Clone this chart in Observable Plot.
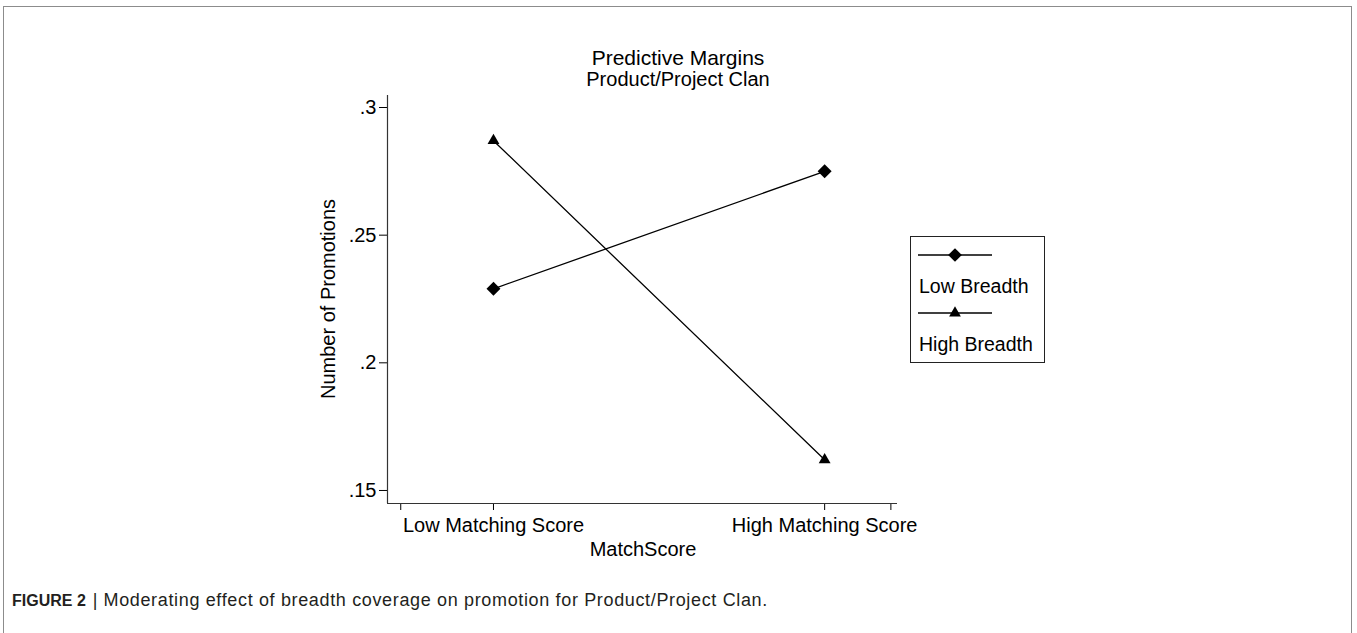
<!DOCTYPE html>
<html>
<head>
<meta charset="utf-8">
<script src="https://cdn.jsdelivr.net/npm/d3@7"></script>
<script src="https://cdn.jsdelivr.net/npm/@observablehq/plot@0.6"></script>
<style>
  html, body { margin: 0; padding: 0; background: #fff; }
  body { font-family: "Liberation Sans", Arial, Helvetica, sans-serif; }
  #wrap { position: relative; width: 1357px; height: 633px; overflow: hidden; background: #fff; }
  #frame { position: absolute; left: 3px; top: 6px; width: 1349px; height: 700px; border: 1.5px solid #8c8c8c; box-sizing: border-box; }
  #chart { position: absolute; left: 0; top: 0; }
  .ttl { position: absolute; left: 0; width: 1356px; text-align: center; color: #000; white-space: nowrap; }
  #title { font-size: 21px; top: 46px; }
  #subtitle { font-size: 20px; top: 68px; }
  .axlab { position: absolute; font-size: 20px; color: #000; white-space: nowrap; line-height: 1; }
  #xlab { left: 643px; top: 539px; transform: translateX(-50%); }
  #ylab { left: 328px; top: 299px; transform: translate(-50%, -50%) rotate(-90deg); }
  #legend { position: absolute; left: 910px; top: 236px; width: 135px; height: 127px; border: 1px solid #222; box-sizing: border-box; background: #fff; }
  #legend svg { position: absolute; left: 0; top: 0; }
  .lg-label { position: absolute; left: 8px; font-size: 19.5px; color: #000; white-space: nowrap; }
  #caption { position: absolute; left: 12px; top: 590px; font-size: 18px; letter-spacing: 0.65px; color: #231f20; white-space: nowrap; }
  #caption b { font-weight: bold; font-size: 16px; letter-spacing: 0; }
  #caption .bar { margin: 0 6px 0 7px; letter-spacing: 0; }
</style>
</head>
<body>
<div id="wrap">
  <div id="frame"></div>
  <div id="chart"></div>
  <div id="title" class="ttl">Predictive Margins</div>
  <div id="subtitle" class="ttl">Product/Project Clan</div>
  <div id="xlab" class="axlab"></div>
  <div id="ylab" class="axlab"></div>
  <div id="legend"></div>
  <div id="caption"><b>FIGURE 2</b><span class="bar">|</span>Moderating effect of breadth coverage on promotion for Product/Project Clan.</div>
</div>
<script>
// ---- data ----
const matchLevels = ["Low Matching Score", "High Matching Score"];
const matchPositions = [0, 1];
const extraTickPositions = [-0.28, 1.2];
const seriesNames = ["Low Breadth", "High Breadth"];
const lowBreadth = [0.229, 0.275];
const highBreadth = [0.287, 0.162];
const yTicks = [0.15, 0.2, 0.25, 0.3];
const yTickLabels = [".15", ".2", ".25", ".3"];
const xTitle = "MatchScore";
const yTitle = "Number of Promotions";
const xDomain = [-0.32, 1.22];
const yDomain = [0.1449, 0.3047];

// ---- table ----
const rows = [];
matchPositions.forEach((p, i) => {
  rows.push({series: seriesNames[0], x: p, y: lowBreadth[i]});
  rows.push({series: seriesNames[1], x: p, y: highBreadth[i]});
});
const xLabelMap = new Map(matchPositions.map((p, i) => [p, matchLevels[i]]));
const yLabelMap = new Map(yTicks.map((t, i) => [t, yTickLabels[i]]));

const W = 1357, H = 633;
const chart = Plot.plot({
  width: W,
  height: H,
  marginLeft: 387,
  marginRight: W - 897,
  marginTop: 95,
  marginBottom: H - 503,
  style: {fontFamily: "'Liberation Sans', Arial, sans-serif", fontSize: "20px", color: "#000", background: "transparent", overflow: "visible"},
  x: {
    domain: xDomain,
    ticks: [...extraTickPositions.slice(0, 1), ...matchPositions, ...extraTickPositions.slice(1)],
    tickFormat: d => xLabelMap.get(d) ?? "",
    tickSize: 7,
    tickPadding: 7,
    label: null
  },
  y: {
    domain: yDomain,
    ticks: yTicks,
    tickFormat: d => yLabelMap.get(d) ?? "",
    tickSize: 8,
    tickPadding: 3,
    label: null
  },
  marks: [
    Plot.ruleX(xDomain.slice(0, 1), {stroke: "#333", strokeWidth: 1.2}),
    Plot.ruleY(yDomain.slice(0, 1), {stroke: "#333", strokeWidth: 1.2}),
    Plot.line(rows, {x: "x", y: "y", z: "series", stroke: "#000", strokeWidth: 1.3}),
    Plot.dot(rows.filter(d => d.series === seriesNames[0]), {x: "x", y: "y", symbol: () => "diamond2", fill: "#000", stroke: "none", r: 6.3}),
    Plot.dot(rows.filter(d => d.series === seriesNames[1]), {x: "x", y: "y", symbol: () => "triangle", fill: "#000", stroke: "none", r: 4.4})
  ]
});
document.getElementById("chart").appendChild(chart);
document.getElementById("xlab").textContent = xTitle;
document.getElementById("ylab").textContent = yTitle;

// ---- legend ----
const legend = d3.select("#legend");
const lsvg = legend.append("svg").attr("width", 135).attr("height", 127);
const legendRows = [
  {name: seriesNames[0], sym: d3.symbolDiamond2, size: 120, ly: 18, ty: 38},
  {name: seriesNames[1], sym: d3.symbolTriangle, size: 60, ly: 76, ty: 96}
];
legendRows.forEach(r => {
  lsvg.append("line").attr("x1", 7).attr("x2", 81).attr("y1", r.ly).attr("y2", r.ly).attr("stroke", "#000").attr("stroke-width", 1.3);
  lsvg.append("path").attr("d", d3.symbol(r.sym, r.size)()).attr("transform", `translate(44,${r.ly})`).attr("fill", "#000");
  legend.append("div").attr("class", "lg-label").style("top", r.ty + "px").text(r.name);
});
</script>
</body>
</html>
